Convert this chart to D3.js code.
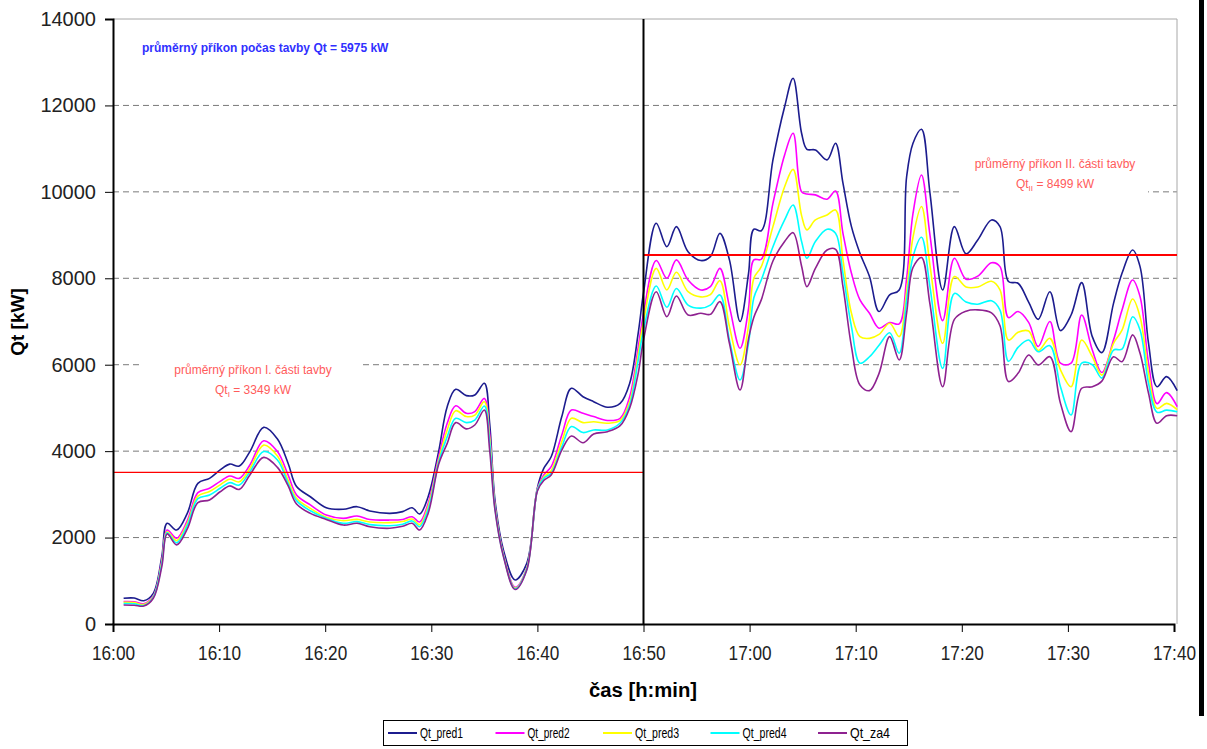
<!DOCTYPE html>
<html lang="cs">
<head>
    <meta charset="UTF-8">
    <title>Qt průběh tavby</title>
    <script src="https://d3js.org/d3.v7.min.js"></script>
    <style>
        body { margin: 0; background: #fff; }
        svg { display: block; font-family: "Liberation Sans", Arial, sans-serif; }
        .grid line { stroke: #7a7a7a; stroke-dasharray: 6,4; }
        .series { fill: none; stroke-width: 1.6; }
    </style>
</head>
<body>
<svg id="chart" width="1207" height="749"></svg>
<script>
    // čas v minutách od 16:00
    const minutes = [1.0, 2.0, 2.9, 3.8, 4.6, 5.1, 6.0, 7.0, 8.0, 9.1,
        10.1, 11.0, 11.9, 12.9, 14.2, 15.5, 16.5, 17.3, 18.6, 20.1,
        21.7, 23.0, 24.2, 26.1, 27.3, 28.2, 28.9, 29.7, 30.7, 31.5,
        32.3, 33.3, 34.1, 35.0, 35.5, 36.0, 36.8, 37.9, 39.0, 40.0,
        40.6, 41.3, 42.3, 43.2, 44.3, 45.3, 46.6, 47.8, 48.7, 49.5,
        50.0,
        51.2, 52.2, 53.1, 54.2, 55.4, 56.3, 57.2, 58.1, 59.1, 59.9,
        60.4, 61.1, 62.2, 63.3, 64.1, 64.9, 65.4, 66.2, 67.3, 68.1,
        68.8, 69.6, 70.4, 71.3, 72.2, 73.2, 74.1, 74.8, 75.4, 76.2,
        77.0, 78.2, 79.3, 80.4, 81.5, 82.8, 83.6, 84.4, 85.3, 86.3,
        87.2, 88.3, 89.3, 90.3, 91.3, 92.3, 93.2, 94.3, 95.1, 96.1,
        96.8, 97.6, 98.4, 99.3, 100.3];

    const qtPred1 = [595, 600, 540, 710, 1560, 2330, 2175, 2560, 3255, 3370,
        3565, 3700, 3655, 3990, 4550, 4280, 3720, 3180, 2945, 2690,
        2655, 2715, 2615, 2560, 2600, 2690, 2545, 2945, 4000, 5030,
        5430, 5285, 5300, 5570, 4645, 2870, 1710, 1020, 1405, 3150,
        3600, 3870, 4800, 5455, 5260, 5145, 5015, 5105, 5570, 6730,
        7660,
        9275, 8730, 9195, 8615, 8410, 8500, 9040, 8425, 7000, 8115,
        9135, 9100, 10740, 11970, 12630, 11355, 10985, 10970, 10740, 11125,
        10200, 9195, 8580, 8040, 7230, 7615, 7730, 10350, 11125, 11450,
        9970, 7730, 9195, 8565, 8885, 9350, 9195, 7925, 7885, 7450,
        7050, 7690, 6790, 7150, 7900, 6650, 6280, 7420, 8115, 8655,
        8270, 6495, 5490, 5725, 5400];

    const qtPred2 = [520, 515, 470, 650, 1470, 2175, 1985, 2390, 3040, 3140,
        3300, 3425, 3370, 3680, 4240, 3990, 3450, 2985, 2755, 2520,
        2445, 2500, 2420, 2405, 2420, 2480, 2360, 2790, 3870, 4645,
        5050, 4875, 4915, 5220, 4400, 2750, 1620, 850, 1300, 3130,
        3450, 3640, 4375, 4950, 4875, 4800, 4710, 4760, 5260, 6400,
        7190,
        8410, 8000, 8425, 7960, 7730, 7805, 8230, 7345, 6380, 7300,
        8425, 8440, 9735, 10855, 11355, 10000, 9950, 9930, 9830, 10020,
        9040, 8115, 7500, 7190, 6845, 6975, 6945, 8000, 9500, 10390,
        9000, 7020, 8465, 7980, 8050, 8360, 8270, 7090, 7230, 6980,
        6420, 7000, 6035, 6035, 7150, 6340, 5820, 6570, 7265, 7960,
        7575, 6035, 5100, 5355, 5030];

    const qtPred3 = [500, 495, 450, 630, 1430, 2135, 1930, 2330, 2960, 3065,
        3220, 3350, 3290, 3600, 4140, 3885, 3330, 2910, 2675, 2470,
        2390, 2420, 2360, 2345, 2370, 2430, 2300, 2720, 3800, 4490,
        4935, 4800, 4835, 5145, 4300, 2720, 1600, 830, 1290, 3110,
        3400, 3550, 4220, 4760, 4660, 4680, 4645, 4710, 5145, 6250,
        7000,
        8230, 7730, 8140, 7690, 7570, 7620, 7945, 6880, 5995, 6900,
        8000, 8270, 9195, 10120, 10520, 9450, 9120, 9350, 9465, 9580,
        8425, 7190, 6650, 6610, 6700, 6960, 6650, 7700, 8950, 9660,
        8300, 6495, 8040, 7800, 7800, 7930, 7730, 6570, 6750, 6780,
        6330, 6610, 5880, 5490, 6570, 6185, 5760, 6495, 6800, 7520,
        7110, 5800, 4990, 5105, 4960];

    const qtPred4 = [475, 470, 430, 615, 1390, 2110, 1880, 2280, 2900, 2985,
        3140, 3270, 3215, 3525, 3990, 3795, 3255, 2855, 2620, 2445,
        2330, 2370, 2300, 2275, 2310, 2385, 2250, 2650, 3750, 4335,
        4760, 4660, 4720, 5045, 4200, 2680, 1580, 815, 1270, 3100,
        3370, 3490, 4100, 4570, 4430, 4490, 4490, 4650, 5070, 6100,
        6800,
        7820, 7330, 7765, 7380, 7310, 7380, 7615, 6570, 5645, 6500,
        7550, 7960, 8730, 9350, 9695, 8850, 8465, 8850, 9135, 9040,
        8115, 6880, 6035, 6185, 6450, 6740, 6265, 7500, 8500, 8950,
        7800, 5915, 7650, 7450, 7400, 7480, 7265, 6080, 6400, 6570,
        6300, 6440, 5490, 4835, 6035, 6000, 5690, 6340, 6360, 7110,
        6805, 5570, 4900, 4950, 4910];

    const qtZa4 = [440, 435, 415, 595, 1330, 2085, 1830, 2200, 2810, 2870,
        3060, 3195, 3115, 3450, 3855, 3625, 3200, 2775, 2560, 2420,
        2290, 2330, 2250, 2215, 2260, 2330, 2175, 2560, 3700, 4180,
        4660, 4515, 4605, 4950, 4025, 2640, 1560, 800, 1250, 3080,
        3320, 3450, 4025, 4350, 4195, 4395, 4450, 4590, 5000, 5800,
        6570,
        7690, 7110, 7590, 7150, 7190, 7165, 7460, 6495, 5415, 6600,
        7100, 7500, 8400, 8850, 9055, 8280, 7805, 8230, 8655, 8670,
        7805, 6420, 5530, 5400, 5800, 6650, 6110, 7200, 8250, 8480,
        7400, 5490, 7050, 7240, 7270, 7200, 6900, 5610, 5800, 6225,
        5995, 6185, 5105, 4450, 5455, 5490, 5620, 6185, 6070, 6690,
        6265, 5340, 4645, 4820, 4820];

    const seriesNames = ["Qt_pred1", "Qt_pred2", "Qt_pred3", "Qt_pred4", "Qt_za4"];
    const seriesValues = [qtPred1, qtPred2, qtPred3, qtPred4, qtZa4];
    const seriesColors = ["#1c1c8e", "#ff00ff", "#ffff00", "#00ffff", "#8e2290"];

    const xTickMinutes = [0, 10, 20, 30, 40, 50, 60, 70, 80, 90, 100];
    const xTickLabels = ["16:00", "16:10", "16:20", "16:30", "16:40", "16:50",
        "17:00", "17:10", "17:20", "17:30", "17:40"];
    const yTicks = [0, 2000, 4000, 6000, 8000, 10000, 12000, 14000];

    // průměrné příkony (vodorovné čáry) – úsek [od, do] v minutách a hladina
    const avgSpans = [[0, 50], [50, 100]];
    const avgLevels = [3510, 8540];
    const splitMinute = 50;

    const svg = d3.select("#chart");
    const x = d3.scaleLinear().domain([0, 100]).range([113, 1174]);
    const y = d3.scaleLinear().domain([0, 14000]).range([624, 19]);
    const plotRight = 1177;

    // mřížka
    svg.append("g").attr("class", "grid")
        .selectAll("line")
        .data(yTicks.filter(d => d > 0 && d < 14000))
        .enter().append("line")
        .attr("x1", x(0)).attr("x2", plotRight)
        .attr("y1", d => y(d)).attr("y2", d => y(d));

    // rámeček plochy
    svg.append("line").attr("x1", x(0)).attr("x2", plotRight)
        .attr("y1", y(14000)).attr("y2", y(14000))
        .attr("stroke", "#a8a8a8");
    svg.append("line").attr("x1", plotRight).attr("x2", plotRight)
        .attr("y1", y(14000)).attr("y2", y(0))
        .attr("stroke", "#a8a8a8");

    // popisky průměrů s bílým pozadím
    function avgLabel(cx, y1, sub, value, box) {
        svg.append("rect").attr("x", box[0]).attr("y", box[1])
            .attr("width", box[2]).attr("height", box[3]).attr("fill", "#fff");
        svg.append("text").attr("x", cx).attr("y", y1)
            .attr("text-anchor", "middle").attr("font-size", 12).attr("fill", "#ff5b5b")
            .text("průměrný příkon " + sub + ". části tavby");
        const t = svg.append("text").attr("x", cx).attr("y", y1 + 20)
            .attr("text-anchor", "middle").attr("font-size", 12).attr("fill", "#ff5b5b");
        t.append("tspan").text("Qt");
        t.append("tspan").attr("font-size", 8).attr("dy", 3).text(sub);
        t.append("tspan").attr("dy", -3).text(" = " + value + " kW");
    }
    avgLabel(253, 374, "I", 3349, [139, 353, 224, 48]);
    avgLabel(1055, 168, "II", 8499, [962, 149, 186, 48]);

    svg.append("text").attr("x", 142).attr("y", 52)
        .attr("font-size", 12).attr("font-weight", "bold").attr("fill", "#3030ff")
        .text("průměrný příkon počas tavby Qt = 5975 kW");

    // datové řady
    const line = d3.line()
        .x((d, i) => x(minutes[i]))
        .y(d => y(d))
        .curve(d3.curveCatmullRom.alpha(0.5));

    svg.append("g").selectAll("path")
        .data(seriesValues)
        .enter().append("path")
        .attr("class", "series")
        .attr("stroke", (d, i) => seriesColors[i])
        .attr("d", line);

    // průměrné hladiny
    svg.append("g").selectAll("line")
        .data(avgLevels)
        .enter().append("line")
        .attr("x1", (d, i) => x(avgSpans[i][0]))
        .attr("x2", (d, i) => i === 1 ? plotRight : x(avgSpans[i][1]))
        .attr("y1", d => y(d)).attr("y2", d => y(d))
        .attr("stroke", "#ff0000")
        .attr("stroke-width", (d, i) => i === 0 ? 1.2 : 2);

    // dělicí svislá čára 16:50
    svg.append("line").attr("x1", x(splitMinute)).attr("x2", x(splitMinute))
        .attr("y1", y(14000)).attr("y2", y(0))
        .attr("stroke", "#000").attr("stroke-width", 2);

    // osy
    const yAxis = d3.axisLeft(y).tickValues(yTicks).tickFormat(d3.format("d"))
        .tickSize(8).tickPadding(9);
    const gy = svg.append("g").attr("transform", "translate(" + x(0) + ",0)").call(yAxis);
    gy.selectAll("text").attr("font-size", 20).attr("fill", "#222")
        .style("font-family", "'Liberation Sans', Arial, sans-serif");
    gy.select(".domain").attr("stroke-width", 2);

    const xAxis = d3.axisBottom(x).tickValues(xTickMinutes)
        .tickFormat((d, i) => xTickLabels[i]).tickSize(8).tickPadding(14);
    const gx = svg.append("g").attr("transform", "translate(0," + y(0) + ")").call(xAxis);
    gx.selectAll("text").attr("font-size", 20).attr("fill", "#222")
        .attr("textLength", 43).attr("lengthAdjust", "spacingAndGlyphs")
        .style("font-family", "'Liberation Sans', Arial, sans-serif");
    gx.select(".domain").attr("stroke-width", 2);

    // názvy os
    svg.append("text").attr("transform", "translate(24,322) rotate(-90)")
        .attr("text-anchor", "middle").attr("font-size", 19).attr("font-weight", "bold")
        .text("Qt [kW]");
    svg.append("text").attr("x", 643).attr("y", 697)
        .attr("text-anchor", "middle").attr("font-size", 20).attr("font-weight", "bold")
        .attr("textLength", 108).attr("lengthAdjust", "spacingAndGlyphs")
        .text("čas [h:min]");

    // legenda
    const legendTextLen = [43, 42, 44, 44, 40];
    const legend = svg.append("g");
    legend.append("rect").attr("x", 383.5).attr("y", 720.5).attr("width", 524).attr("height", 25)
        .attr("fill", "#fff").attr("stroke", "#000");
    const items = legend.selectAll("g.item").data(seriesNames).enter().append("g")
        .attr("transform", (d, i) => "translate(" + (388 + i * 107.5) + ",733)");
    items.append("line").attr("x1", 0).attr("x2", 29)
        .attr("stroke", (d, i) => seriesColors[i]).attr("stroke-width", 2);
    items.append("text").attr("x", 32).attr("y", 5).attr("font-size", 15)
        .attr("textLength", (d, i) => legendTextLen[i]).attr("lengthAdjust", "spacingAndGlyphs")
        .text(d => d);

    // tmavý pruh na pravém okraji skenu
    svg.append("rect").attr("x", 1199).attr("y", 0).attr("width", 5).attr("height", 716)
        .attr("fill", "#000");
</script>
</body>
</html>
